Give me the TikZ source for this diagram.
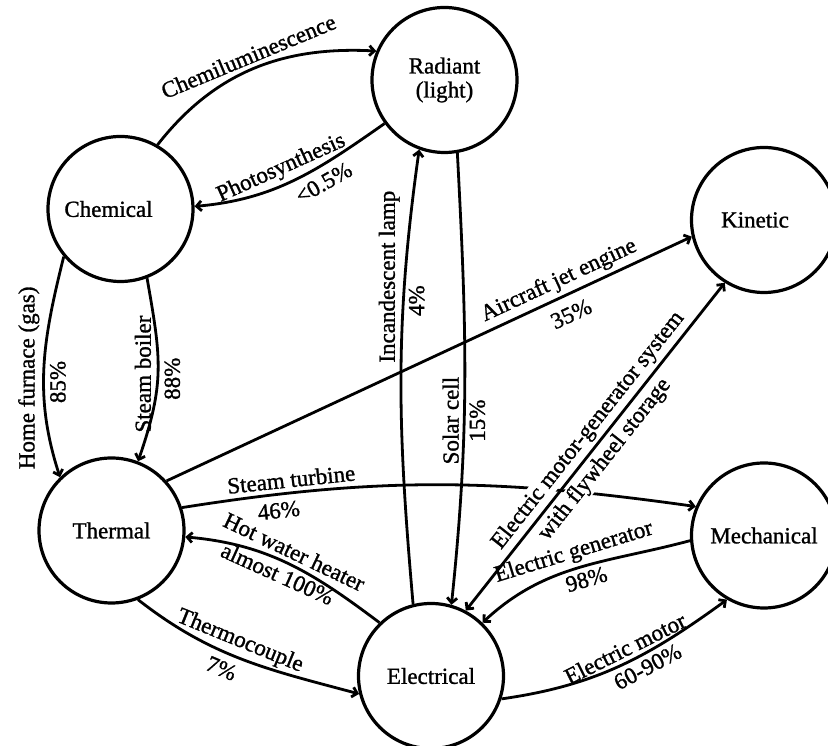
\documentclass[tikz,border=0pt]{standalone}
\usepackage{fontspec}
\setmainfont{Liberation Serif}[FakeBold=1.2]
\usetikzlibrary{arrows.meta}
\begin{document}
\begin{tikzpicture}[x=1pt,y=1pt,
  >={Straight Barb[length=5pt,width=10pt]},
  energy/.style={circle, draw, line width=3.2pt, minimum size=145pt, inner sep=0pt,
    font=\fontsize{23}{24}\selectfont, align=center},
  flow/.style={line width=2.8pt, ->},
  flowback/.style={line width=2.8pt, <-},
  flowboth/.style={line width=2.8pt, <->},
  lbl/.style={font=\fontsize{23}{24}\selectfont, inner sep=4pt},
  masked/.style={lbl, fill=white, inner sep=1.5pt},
]
\useasboundingbox (0,0) rectangle (828,746);
\clip (0,0) rectangle (828,746);
\fill[white] (0,0) rectangle (828,746);

% energy forms
\node[energy] (rad)   at (444.5,666) {Radiant\\(light)};
\node[energy] (chem)  at (120.5,537) {\hspace*{-24pt}Chemical};
\node[energy] (kin)   at (764,526)   {\hspace*{-18pt}Kinetic};
\node[energy] (therm) at (111.5,215.5) {Thermal};
\node[energy] (mech)  at (764,210.5) {Mechanical};
\node[energy] (elec)  at (431,70)    {Electrical};

% chemical <-> radiant
\draw[flow] (chem.60) to[out=52, in=177]
  node[lbl, sloped, above] {Chemiluminescence} (rad.157);
\draw[flowback] (chem.2) to[out=5, in=215]
  node[lbl, sloped, above, pos=0.46] {Photosynthesis}
  node[lbl, sloped, below=3pt, pos=0.62] {\textless0.5\%} (rad.216);

% chemical -> thermal
\draw[flow] (chem.220) to[out=-104, in=108]
  node[lbl, rotate=90, anchor=south, pos=0.55, inner sep=3pt] {Home furnace (gas)}
  node[lbl, rotate=90, anchor=north, pos=0.57, inner sep=5pt] {85\%} (therm.134);
\draw[flow] (chem.291) to[out=-80, in=71, looseness=1.15]
  node[lbl, rotate=90, anchor=south, pos=0.52, inner sep=5.5pt] {Steam boiler}
  node[lbl, rotate=90, anchor=north, pos=0.55, inner sep=5.5pt] {88\%} (therm.69);

% thermal -> kinetic
\draw[flow] (therm.42) --
  node[lbl, sloped, above, pos=0.76] {Aircraft jet engine}
  node[lbl, sloped, below=6pt, pos=0.755] {35\%} (kin.193);

% thermal -> mechanical
\draw[flow] (therm.18) to[out=9, in=172]
  node[lbl, sloped, above, pos=0.2] {Steam turbine}
  node[lbl, sloped, below=3pt, pos=0.17] {46\%} (mech.157);

% electrical <-> thermal
\draw[flowback] (therm.355) to[out=-5, in=143]
  node[lbl, sloped, above, pos=0.5] {Hot water heater}
  node[lbl, sloped, below, pos=0.47] {almost 100\%} (elec.134);
\draw[flow] (therm.291) to[out=-38, in=165]
  node[lbl, sloped, above, pos=0.46] {Thermocouple}
  node[lbl, sloped, below=3pt, pos=0.43] {7\%} (elec.194);

% electrical <-> radiant
\draw[flow] (elec.104) to[out=95, in=262]
  node[lbl, rotate=90, anchor=south, pos=0.735] {Incandescent lamp}
  node[lbl, rotate=90, anchor=north, pos=0.68] {4\%} (rad.250);
\draw[flow] (rad.280) to[out=-87, in=84]
  node[lbl, rotate=90, anchor=south, pos=0.6] {Solar cell}
  node[lbl, rotate=90, anchor=north, pos=0.6] {15\%} (elec.74);

% electrical <-> kinetic
\draw[flowboth] (elec.62) --
  node[masked, sloped, above=2pt, pos=0.52] {Electric motor-generator system}
  node[masked, sloped, below=2pt, pos=0.49] {with flywheel storage} (kin.238);

% electrical <-> mechanical
\draw[flowback] (elec.46) to[out=43, in=195]
  node[lbl, sloped, above, pos=0.5] {Electric generator}
  node[lbl, sloped, below, pos=0.52] {98\%} (mech.184);
\draw[flow] (elec.342) to[out=8, in=216]
  node[lbl, sloped, above, pos=0.55] {Electric motor}
  node[lbl, sloped, below, pos=0.6] {60-90\%} (mech.240);
\end{tikzpicture}
\end{document}
